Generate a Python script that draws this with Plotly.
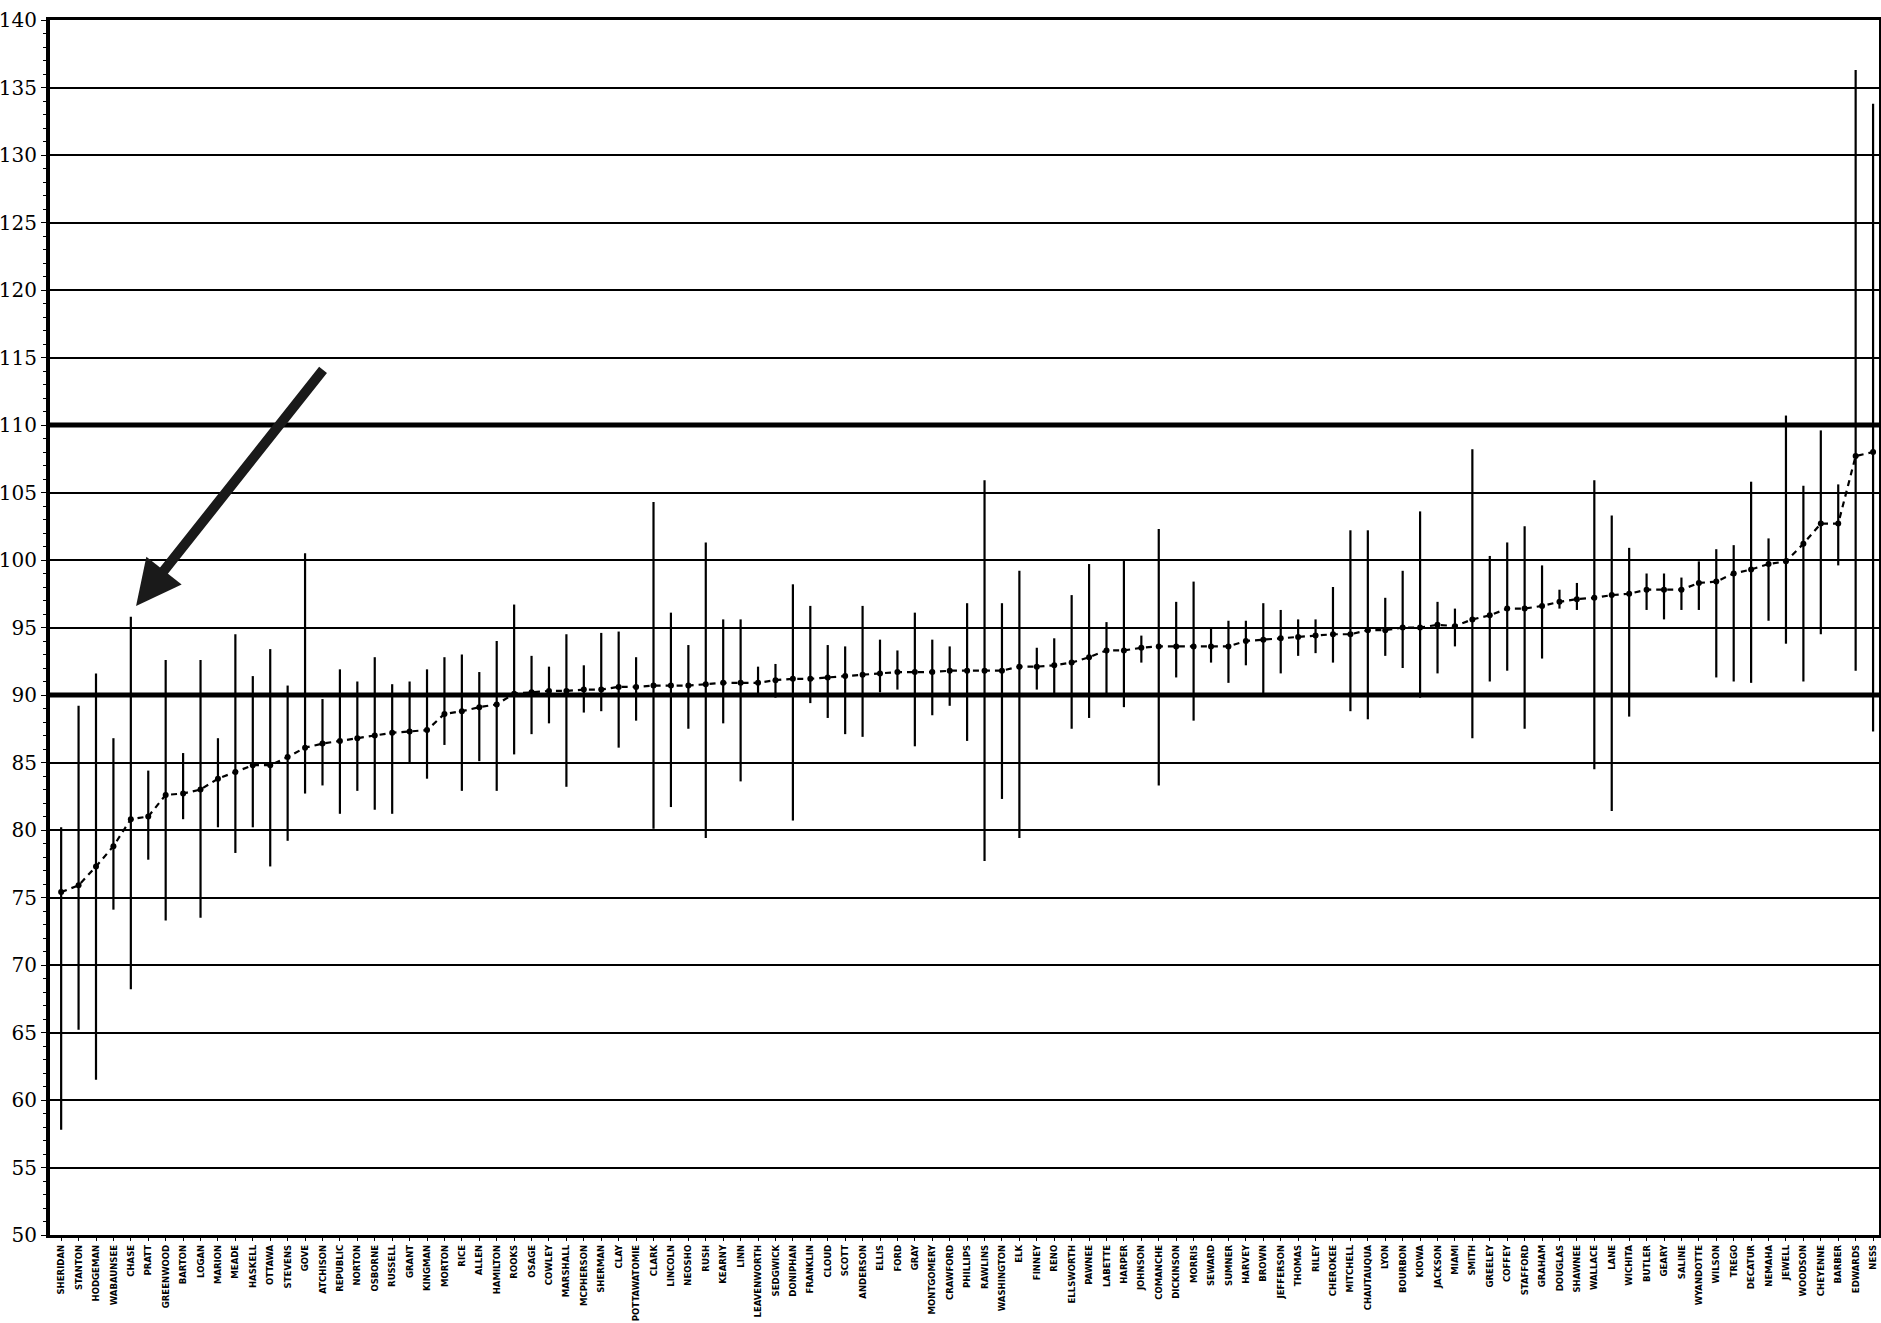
import plotly.graph_objects as go

counties = ["SHERIDAN","STANTON","HODGEMAN","WABAUNSEE","CHASE","PRATT","GREENWOOD","BARTON","LOGAN","MARION",
"MEADE","HASKELL","OTTAWA","STEVENS","GOVE","ATCHISON","REPUBLIC","NORTON","OSBORNE","RUSSELL",
"GRANT","KINGMAN","MORTON","RICE","ALLEN","HAMILTON","ROOKS","OSAGE","COWLEY","MARSHALL",
"MCPHERSON","SHERMAN","CLAY","POTTAWATOMIE","CLARK","LINCOLN","NEOSHO","RUSH","KEARNY","LINN",
"LEAVENWORTH","SEDGWICK","DONIPHAN","FRANKLIN","CLOUD","SCOTT","ANDERSON","ELLIS","FORD","GRAY",
"MONTGOMERY","CRAWFORD","PHILLIPS","RAWLINS","WASHINGTON","ELK","FINNEY","RENO","ELLSWORTH","PAWNEE",
"LABETTE","HARPER","JOHNSON","COMANCHE","DICKINSON","MORRIS","SEWARD","SUMNER","HARVEY","BROWN",
"JEFFERSON","THOMAS","RILEY","CHEROKEE","MITCHELL","CHAUTAUQUA","LYON","BOURBON","KIOWA","JACKSON",
"MIAMI","SMITH","GREELEY","COFFEY","STAFFORD","GRAHAM","DOUGLAS","SHAWNEE","WALLACE","LANE",
"WICHITA","BUTLER","GEARY","SALINE","WYANDOTTE","WILSON","TREGO","DECATUR","NEMAHA","JEWELL",
"WOODSON","CHEYENNE","BARBER","EDWARDS","NESS"]

mean_vals = [75.4,75.9,77.3,78.8,80.8,81.0,82.6,82.7,83.0,83.8,84.3,84.8,84.8,85.4,86.1,86.4,86.6,86.8,
87.0,87.2,87.3,87.4,88.6,88.8,89.1,89.3,90.1,90.2,90.3,90.3,90.4,90.4,90.6,90.6,90.7,90.7,
90.7,90.8,90.9,90.9,90.9,91.1,91.2,91.2,91.3,91.4,91.5,91.6,91.7,91.7,91.7,91.8,91.8,91.8,
91.8,92.1,92.1,92.2,92.4,92.8,93.3,93.3,93.5,93.6,93.6,93.6,93.6,93.6,94.0,94.1,94.2,94.3,
94.4,94.5,94.5,94.8,94.8,95.0,95.0,95.2,95.1,95.6,95.9,96.4,96.4,96.6,96.9,97.1,97.2,97.4,
97.5,97.8,97.8,97.8,98.3,98.4,99.0,99.3,99.7,99.9,101.2,102.7,102.7,107.7,108.0]

high_vals = [80.2,89.2,91.6,86.8,95.8,84.4,92.6,85.7,92.6,86.8,94.5,91.4,93.4,90.7,100.5,89.7,91.9,91.0,
92.8,90.8,91.0,91.9,92.8,93.0,91.7,94.0,96.7,92.9,92.1,94.5,92.2,94.6,94.7,92.8,104.3,96.1,
93.7,101.3,95.6,95.6,92.1,92.3,98.2,96.6,93.7,93.6,96.6,94.1,93.3,96.1,94.1,93.6,96.8,105.9,
96.8,99.2,93.5,94.2,97.4,99.7,95.4,100.0,94.4,102.3,96.9,98.4,95.0,95.5,95.5,96.8,96.3,95.6,
95.6,98.0,102.2,102.2,97.2,99.2,103.6,96.9,96.4,108.2,100.3,101.3,102.5,99.6,97.8,98.3,105.9,103.3,
100.9,99.0,99.0,98.7,99.9,100.8,101.1,105.8,101.6,110.7,105.5,109.6,105.6,136.3,133.8]

low_vals = [57.8,65.2,61.5,74.1,68.2,77.8,73.3,80.8,73.5,80.2,78.3,80.2,77.3,79.2,82.7,83.3,81.2,82.9,
81.5,81.2,84.9,83.8,86.3,82.9,85.1,82.9,85.6,87.1,87.9,83.2,88.7,88.8,86.1,88.1,80.1,81.7,
87.5,79.4,87.9,83.6,90.1,89.8,80.7,89.4,88.3,87.1,86.9,90.2,90.4,86.2,88.5,89.2,86.6,77.7,
82.3,79.4,90.4,90.1,87.5,88.3,90.1,89.1,92.4,83.3,91.3,88.1,92.4,90.9,92.2,90.1,91.6,92.9,
93.1,92.4,88.8,88.2,92.9,92.0,89.8,91.6,93.6,86.8,91.0,91.8,87.5,92.7,96.4,96.3,84.5,81.4,
88.4,96.3,95.6,96.3,96.3,91.3,91.0,90.9,95.5,93.8,91.0,94.5,99.6,91.8,87.3]

y_ticks = [50, 55, 60, 65, 70, 75, 80, 85, 90, 95, 100, 105, 110, 115, 120, 125, 130, 135, 140]
ref_lines = [90, 110]

xs = list(range(len(counties)))
err_plus = [h - m for h, m in zip(high_vals, mean_vals)]
err_minus = [m - l for m, l in zip(mean_vals, low_vals)]

fig = go.Figure()

# range bars (no caps)
fig.add_trace(go.Scatter(
    x=xs, y=mean_vals, mode="markers",
    marker=dict(size=1, color="rgba(0,0,0,0)"),
    error_y=dict(type="data", symmetric=False, array=err_plus, arrayminus=err_minus,
                 color="black", thickness=2.2, width=0),
    showlegend=False, hoverinfo="skip"))

# dashed mean line with dots
fig.add_trace(go.Scatter(
    x=xs, y=mean_vals, mode="lines+markers",
    line=dict(color="black", width=2.2, dash="6px,5px"),
    marker=dict(size=6, color="black"),
    showlegend=False))

for v in ref_lines:
    fig.add_shape(type="line", xref="paper", x0=0, x1=1, yref="y", y0=v, y1=v,
                  line=dict(color="black", width=5), layer="above")

# arrow
fig.add_annotation(x=4.3, y=96.6, ax=15.1, ay=114.2, xref="x", yref="y", axref="x", ayref="y",
                   showarrow=True, arrowhead=2, arrowsize=0.9, arrowwidth=10, arrowcolor="#1a1a1a",
                   text="")

fig.update_layout(
    width=1881, height=1323,
    margin=dict(l=50, r=2, t=20, b=88),
    paper_bgcolor="white", plot_bgcolor="white",
    xaxis=dict(range=[-0.64, 104.34], tickmode="array", tickvals=xs, ticktext=counties,
               tickangle=-90, automargin=False,
               tickfont=dict(family="Liberation Sans Narrow, Arial Narrow, DejaVu Sans Condensed", size=9.5,
                             color="black", weight="bold"),
               showgrid=False, zeroline=False, showline=True, linecolor="black", linewidth=3,
               mirror=True, ticks="outside", ticklen=3, tickcolor="black"),
    yaxis=dict(range=[50, 140], tickmode="array", tickvals=y_ticks, automargin=False,
               tickfont=dict(family="DejaVu Serif, Liberation Serif, serif", size=20, color="black"),
               showgrid=True, gridcolor="black", gridwidth=1.6, zeroline=False,
               showline=True, linecolor="black", linewidth=4, mirror=True,
               ticks="outside", ticklen=5, tickcolor="black",
               minor=dict(dtick=1, ticks="outside", ticklen=3, tickcolor="black", showgrid=False)),
    font=dict(color="black"),
)

fig.write_html("out.html", config={"displayModeBar": False},
               post_script="document.body.style.margin='0';document.body.style.overflow='hidden';")
